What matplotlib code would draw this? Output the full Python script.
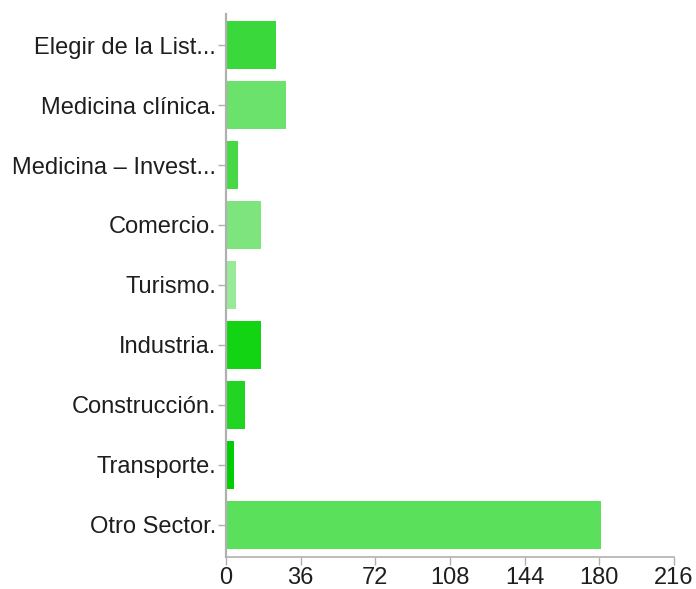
import matplotlib
matplotlib.use("Agg")
import matplotlib.pyplot as plt

plt.rcParams["font.family"] = ["Liberation Sans", "DejaVu Sans"]

sectors = [
    "Elegir de la List...",
    "Medicina clínica.",
    "Medicina – Invest...",
    "Comercio.",
    "Turismo.",
    "Industria.",
    "Construcción.",
    "Transporte.",
    "Otro Sector.",
]
counts = [24, 29, 6, 17, 5, 17, 9, 4, 181]
colors = ["#3ad83a", "#6be26b", "#45d945", "#7ee57e", "#98ea98",
          "#13d413", "#22d522", "#02cc02", "#5ae05a"]
xticks = [0, 36, 72, 108, 144, 180, 216]

fig = plt.figure(figsize=(6.96, 5.89), dpi=100)
ax = fig.add_axes([0.3247, 0.0543, 0.6437, 0.9219])

ypos = list(range(len(sectors)))
ax.barh(ypos, counts, height=0.8, color=colors, edgecolor="none")

ax.set_xlim(0, 216)
ax.set_ylim(8.54, -0.52)
ax.set_yticks(ypos)
ax.set_yticklabels(sectors, fontsize=17, color="#1e1e1e")
ax.set_xticks(xticks)
ax.set_xticklabels([str(t) for t in xticks], fontsize=17, color="#1e1e1e")

for side in ("top", "right"):
    ax.spines[side].set_visible(False)
ax.spines["left"].set_color("#b0b0b0")
ax.spines["left"].set_linewidth(1.6)
ax.spines["bottom"].set_color("#b0b0b0")
ax.spines["bottom"].set_linewidth(1.2)
ax.tick_params(axis="both", colors="#b0b0b0", labelcolor="#1e1e1e",
               length=6, width=1)
ax.tick_params(axis="y", pad=1)
ax.tick_params(axis="x", pad=1)

fig.savefig("out.png", dpi=100)
